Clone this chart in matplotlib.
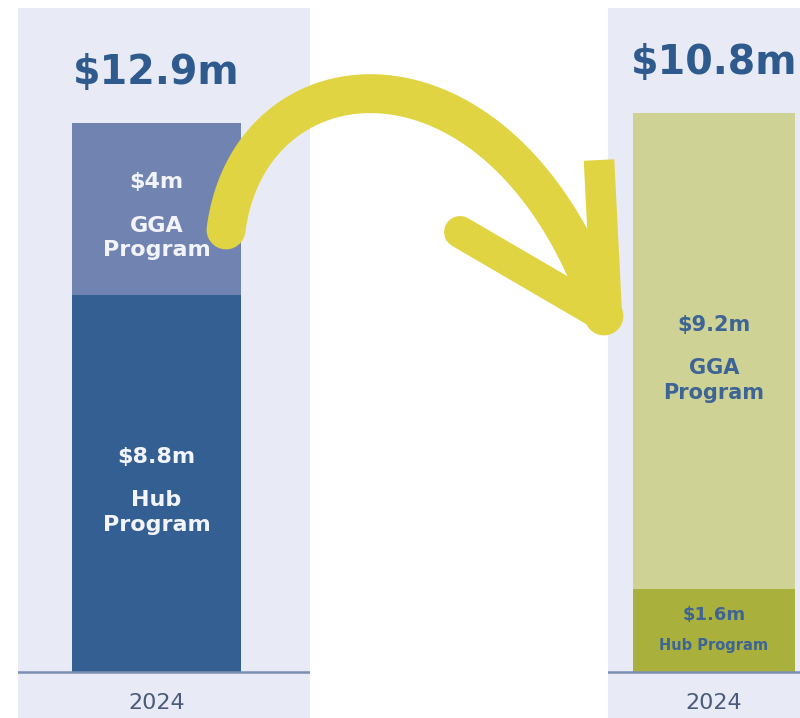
import numpy as np
import matplotlib.pyplot as plt

# data
years = ["2024", "2024"]
totals = ["$12.9m", "$10.8m"]
segments = ["Hub", "GGA"]                 # bottom to top
before_values = [8.8, 4.0]
after_values = [1.6, 9.2]
before_labels = ["$8.8m", "$4m"]
after_labels = ["$1.6m", "$9.2m"]

before_colors = ["#345f93", "#7184b1"]
after_colors = ["#a9b03c", "#ced294"]

W, H = 800, 718
BASE = 46          # px from figure bottom to the baseline
PANEL_H = 710
FONT = "DejaVu Sans"

fig = plt.figure(figsize=(W / 100, H / 100), dpi=100)
fig.patch.set_facecolor("white")


def panel(x0, width, top_px, bar_x, bar_w, values, labels, colors, total, year,
          txt_color, sizes):
    ax = fig.add_axes([x0 / W, 0, width / W, PANEL_H / H])
    scale = (H - top_px - BASE) / sum(values)
    ax.set_ylim(-BASE / scale, (PANEL_H - BASE) / scale)
    ax.set_xlim(0, width)
    ax.axis("off")
    ax.add_patch(plt.Rectangle((0, 0), 1, 1, transform=ax.transAxes,
                               color="#e8ebf5", zorder=0))

    bottom = 0
    for v, lab, name, c, fs in zip(values, labels, segments, colors, sizes):
        ax.bar(bar_x, v, bar_w, bottom=bottom, color=c, zorder=2)
        mid = bottom + v / 2
        if fs < 14:
            # small segment: name on one line
            name_txt, d, d2, nfs = name + " Program", 11, -11, fs - 2.5
        else:
            name_txt, d, d2, nfs = name + "\nProgram", 19, -21, fs
        ax.annotate(lab, (bar_x, mid), xytext=(0, d), textcoords="offset points",
                    ha="center", va="center", color=txt_color, fontsize=fs,
                    fontweight="bold", family=FONT, zorder=4)
        ax.annotate(name_txt, (bar_x, mid), xytext=(0, d2),
                    textcoords="offset points", ha="center", va="center",
                    color=txt_color, fontsize=nfs, fontweight="bold", family=FONT,
                    linespacing=1.3, zorder=4)
        bottom += v

    ax.axhline(0, color="#7b8fb3", lw=1.8, zorder=3)
    ax.annotate(total, (bar_x, sum(values)), xytext=(0, 36), textcoords="offset points",
                ha="center", va="center", color="#2f5a8e", fontsize=28.5,
                fontweight="bold", family=FONT)
    ax.annotate(year, (bar_x, 0), xytext=(0, -22), textcoords="offset points",
                ha="center", va="center", color="#4b5b7b", fontsize=16, family=FONT)
    return ax


panel(18, 292, 123, 138.5, 169, before_values, before_labels, before_colors,
      totals[0], years[0], "#f3f4fa", [16, 16])
panel(608, 210, 113, 106, 162, after_values, after_labels, after_colors,
      totals[1], years[1], "#3d6494", [13, 15])

# hand-drawn yellow arrow overlay (figure pixel coordinates)
ov = fig.add_axes([0, 0, 1, 1], zorder=10)
ov.set_xlim(0, W)
ov.set_ylim(H, 0)
ov.axis("off")
ov.patch.set_alpha(0)

p0, p1, p2, p3 = map(np.array, [(226, 230), (250, 45), (505, 25), (604, 316)])
t = np.linspace(0, 1, 200)[:, None]
curve = ((1 - t) ** 3) * p0 + 3 * ((1 - t) ** 2) * t * p1 + 3 * (1 - t) * t ** 2 * p2 + t ** 3 * p3
yellow = "#e0d442"
ov.plot(curve[:, 0], curve[:, 1], color=yellow, lw=28, solid_capstyle="round")
ov.plot([599, 607], [160, 318], color=yellow, lw=22, solid_capstyle="butt")
ov.plot([460, 604], [232, 316], color=yellow, lw=23, solid_capstyle="round")

fig.savefig("out.png", dpi=100)
